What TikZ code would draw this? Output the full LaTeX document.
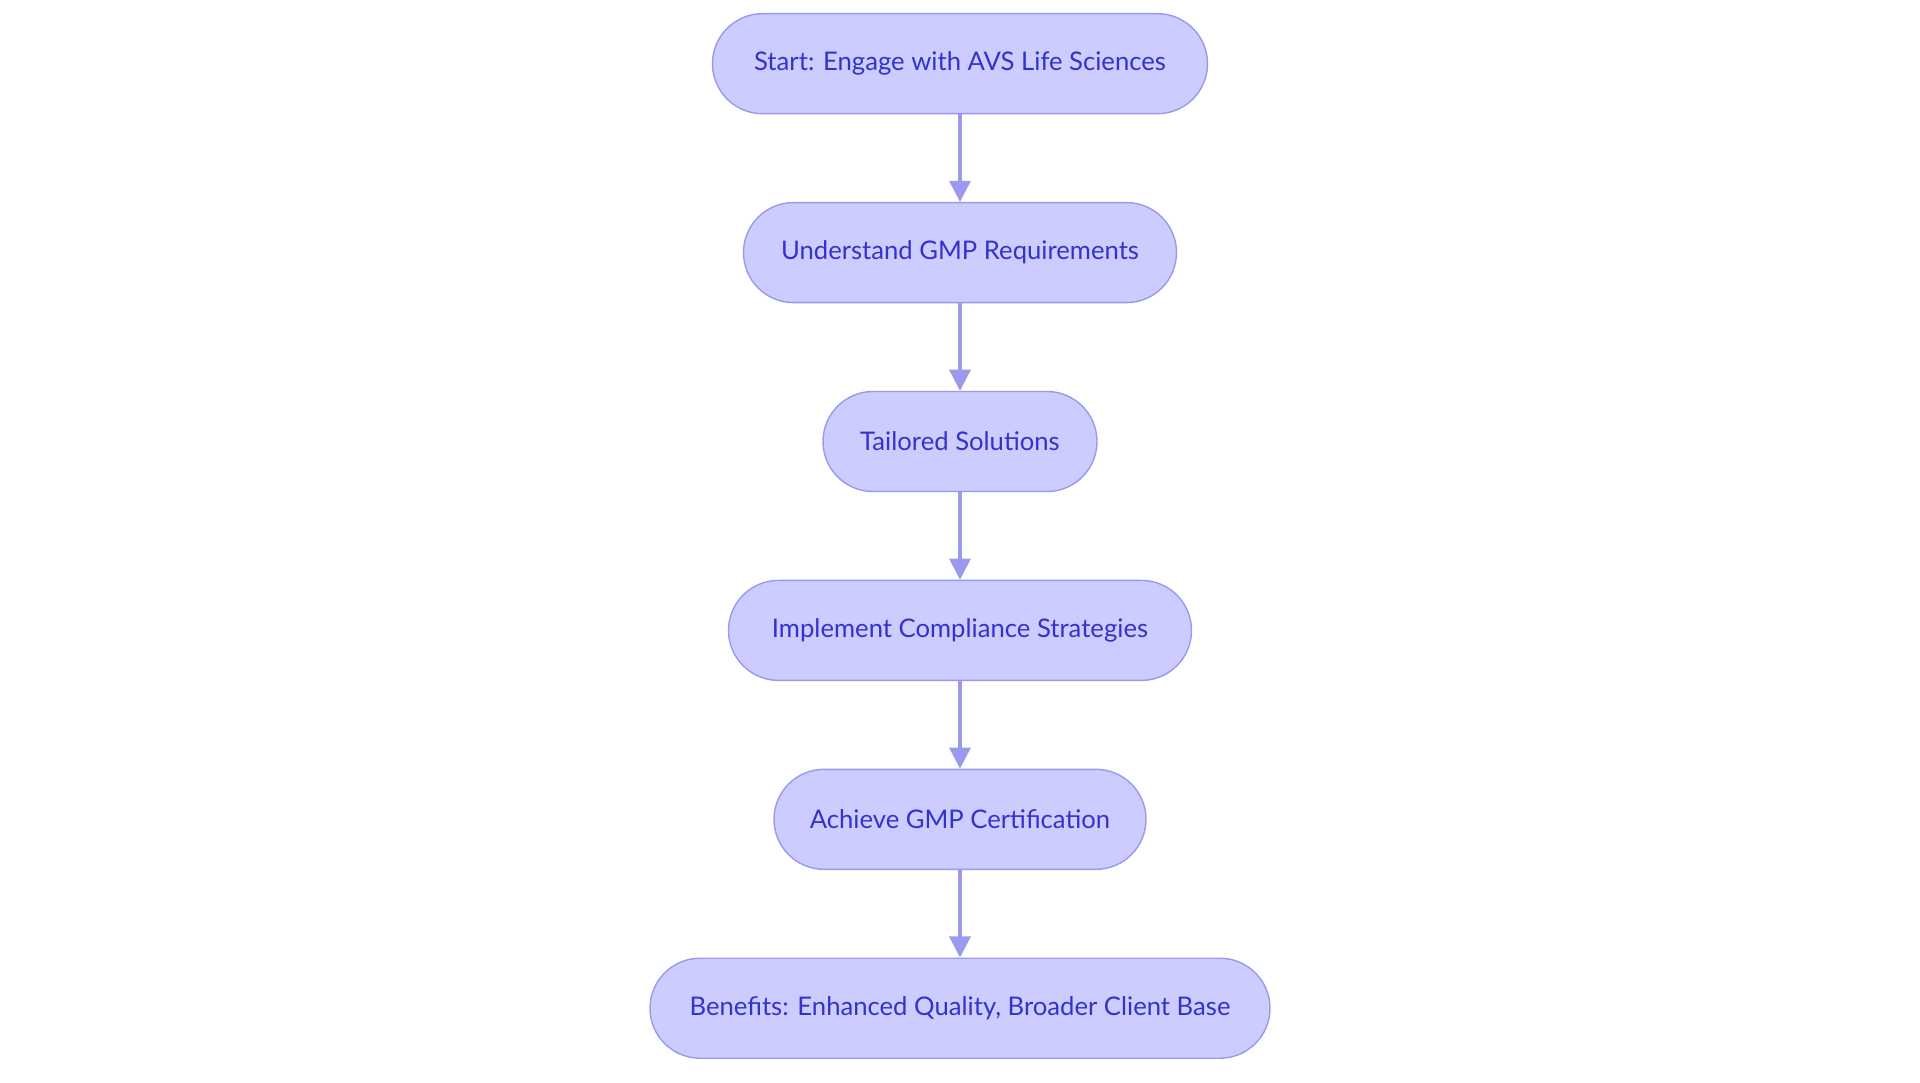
\documentclass[tikz,border=0pt]{standalone}
\usepackage{fontspec}
\setmainfont{Lato}
\usetikzlibrary{positioning,arrows.meta}
\definecolor{stepfill}{HTML}{CCCCFF}
\definecolor{stepdraw}{HTML}{9999EE}
\definecolor{steptext}{HTML}{3333CC}

\begin{document}
\begin{tikzpicture}[
    flowstep/.style={draw=stepdraw,fill=stepfill,text=steptext,rounded corners=0.5cm,
      minimum height=1cm,font=\fontsize{7.3}{9}\selectfont,inner sep=0pt},
    flow/.style={-{Triangle[length=6pt,width=6pt]},stepdraw,line width=0.9pt},
    node distance=0.875cm
  ]
  % page frame
  \useasboundingbox (-9.6,0.637) rectangle (9.6,-10.193);

  % steps
  \node[flowstep,minimum width=4.95cm] (start) at (0,0) {Start: Engage with AVS Life Sciences};
  \node[flowstep,minimum width=4.33cm,below=of start] (gmp) {Understand GMP Requirements};
  \node[flowstep,minimum width=2.74cm,below=of gmp] (tailor) {Tailored Solutions};
  \node[flowstep,minimum width=4.63cm,below=of tailor] (implement) {Implement Compliance Strategies};
  \node[flowstep,minimum width=3.72cm,below=of implement] (cert) {Achieve GMP Certification};
  \node[flowstep,minimum width=6.20cm,below=of cert] (benefits) {Benefits: Enhanced Quality, Broader Client Base};

  % arrows
  \draw[flow] (start) -- (gmp);
  \draw[flow] (gmp) -- (tailor);
  \draw[flow] (tailor) -- (implement);
  \draw[flow] (implement) -- (cert);
  \draw[flow] (cert) -- (benefits);
\end{tikzpicture}
\end{document}
